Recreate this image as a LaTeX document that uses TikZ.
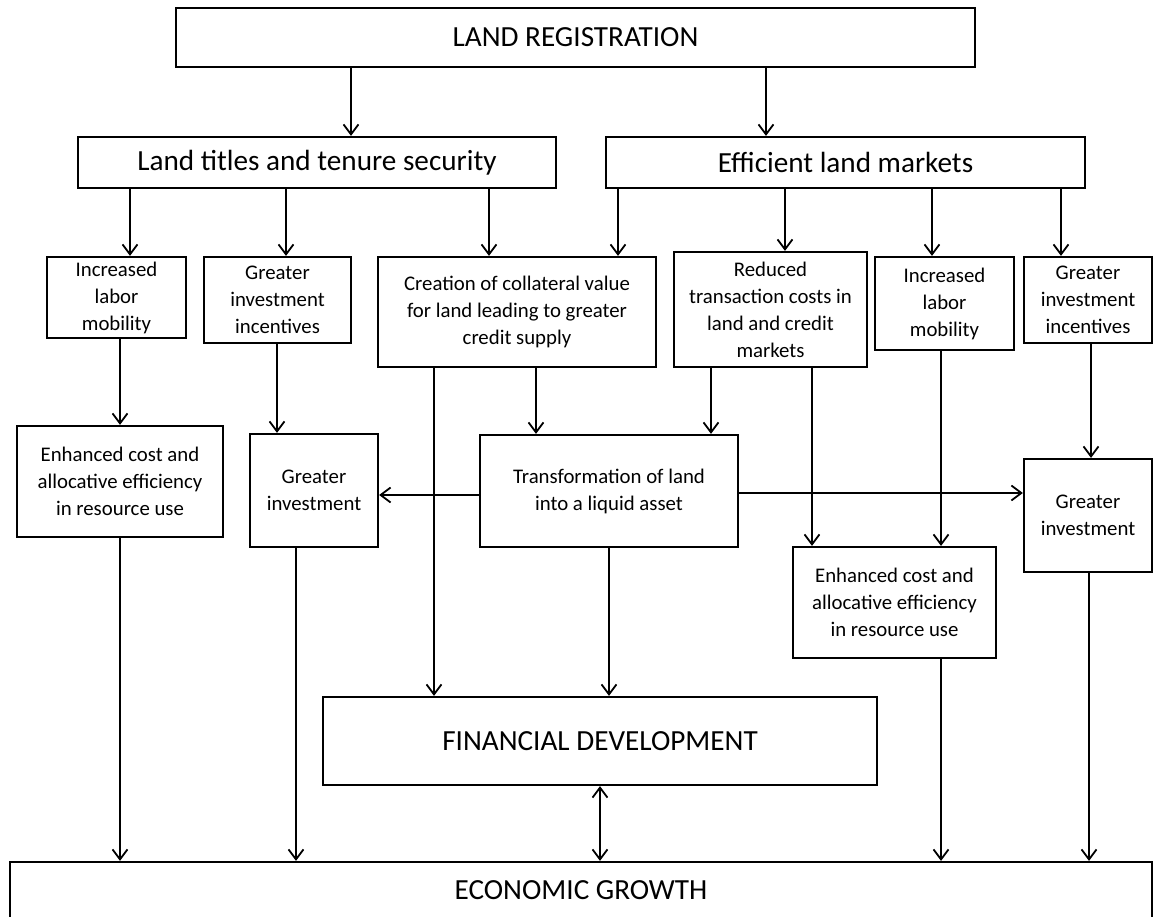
\documentclass[tikz,border=0pt]{standalone}
\usepackage{fontspec}
\setmainfont{Carlito}
\usetikzlibrary{arrows.meta}
\begin{document}
\begin{tikzpicture}[x=1pt,y=-1pt,
  box/.style={draw=black, line width=2.2pt, rectangle, inner sep=0pt, align=center},
  big/.style={box, font=\fontsize{29.2}{35}\selectfont},
  small/.style={box, font=\fontsize{20.8}{27}\selectfont},
  arr/.style={line width=1.8pt, -{Straight Barb[length=10pt,width=15pt]}},
  darr/.style={line width=1.8pt, {Straight Barb[length=10pt,width=15pt]}-{Straight Barb[length=10pt,width=15pt]}}]
\useasboundingbox (0,0) rectangle (1154,917);
\fill[white] (0,0) rectangle (1154,917);
% boxes
\node[big, minimum width=799pt, minimum height=59pt] (lr) at (575.5,37.5) {LAND REGISTRATION};
\node[big, minimum width=478pt, minimum height=51pt] (lt) at (317,162.5) {Land titles and tenure security};
\node[big, minimum width=479pt, minimum height=51pt] (el) at (845.5,162.5) {Efficient land markets};
\node[small, minimum width=139pt, minimum height=81pt] (ilm1) at (116.5,297.5) {Increased\\labor\\mobility};
\node[small, minimum width=147pt, minimum height=86pt] (gii1) at (277.5,300) {Greater\\investment\\incentives};
\node[small, minimum width=278pt, minimum height=110pt] (cc) at (517,312) {Creation of collateral value\\for land leading to greater\\credit  supply};
\node[small, minimum width=193pt, minimum height=115pt] (rtc) at (770.5,309.5) {Reduced\\transaction costs in\\land and credit\\markets};
\node[small, minimum width=139pt, minimum height=93pt] (ilm2) at (944.5,303.5) {Increased\\labor\\mobility};
\node[small, minimum width=128pt, minimum height=86pt] (gii2) at (1088,300) {Greater\\investment\\incentives};
\node[small, minimum width=206pt, minimum height=111pt] (ec1) at (120,481.5) {Enhanced cost and\\allocative efficiency\\in resource  use};
\node[small, minimum width=128pt, minimum height=113pt] (gi1) at (314,490.5) {Greater\\investment};
\node[small, minimum width=258pt, minimum height=112pt] (tr) at (609,491) {Transformation of land\\into a liquid asset};
\node[small, minimum width=128pt, minimum height=113pt] (gi2) at (1088,515.5) {Greater\\investment};
\node[small, minimum width=203pt, minimum height=111pt] (ec2) at (894.5,602.5) {Enhanced cost and\\allocative efficiency\\in resource  use};
\node[big, minimum width=554pt, minimum height=88pt] (fd) at (600,741) {FINANCIAL DEVELOPMENT};
\node[big, minimum width=1142pt, minimum height=56pt] (eg) at (581,890) {ECONOMIC GROWTH};
% connectors
\draw[arr] (lr.south -| 351,0) -- (lt.north -| 351,0);
\draw[arr] (lr.south -| 766,0) -- (el.north -| 766,0);
\draw[arr] (lt.south -| 130,0) -- (ilm1.north -| 130,0);
\draw[arr] (lt.south -| 286,0) -- (gii1.north -| 286,0);
\draw[arr] (lt.south -| 489,0) -- (cc.north -| 489,0);
\draw[arr] (el.south -| 618,0) -- (cc.north -| 618,0);
\draw[arr] (el.south -| 785,0) -- (rtc.north -| 785,0);
\draw[arr] (el.south -| 932,0) -- (ilm2.north -| 932,0);
\draw[arr] (el.south -| 1061,0) -- (gii2.north -| 1061,0);
\draw[arr] (ilm1.south -| 120,0) -- (ec1.north -| 120,0);
\draw[arr] (gii1.south -| 277,0) -- (gi1.north -| 277,0);
\draw[arr] (cc.south -| 434,0) -- (fd.north -| 434,0);
\draw[arr] (cc.south -| 536,0) -- (tr.north -| 536,0);
\draw[arr] (rtc.south -| 711,0) -- (tr.north -| 711,0);
\draw[arr] (rtc.south -| 812,0) -- (ec2.north -| 812,0);
\draw[arr] (ilm2.south -| 941,0) -- (ec2.north -| 941,0);
\draw[arr] (gii2.south -| 1091,0) -- (gi2.north -| 1091,0);
\draw[arr] (tr.west |- 0,495) -- (gi1.east |- 0,495);
\draw[arr] (tr.east |- 0,493) -- (gi2.west |- 0,493);
\draw[arr] (tr.south) -- (fd.north -| tr.south);
\draw[arr] (ec1.south -| 120,0) -- (eg.north -| 120,0);
\draw[arr] (gi1.south -| 296,0) -- (eg.north -| 296,0);
\draw[darr] (fd.south) -- (eg.north -| fd.south);
\draw[arr] (ec2.south -| 941,0) -- (eg.north -| 941,0);
\draw[arr] (gi2.south -| 1089,0) -- (eg.north -| 1089,0);
\end{tikzpicture}
\end{document}
